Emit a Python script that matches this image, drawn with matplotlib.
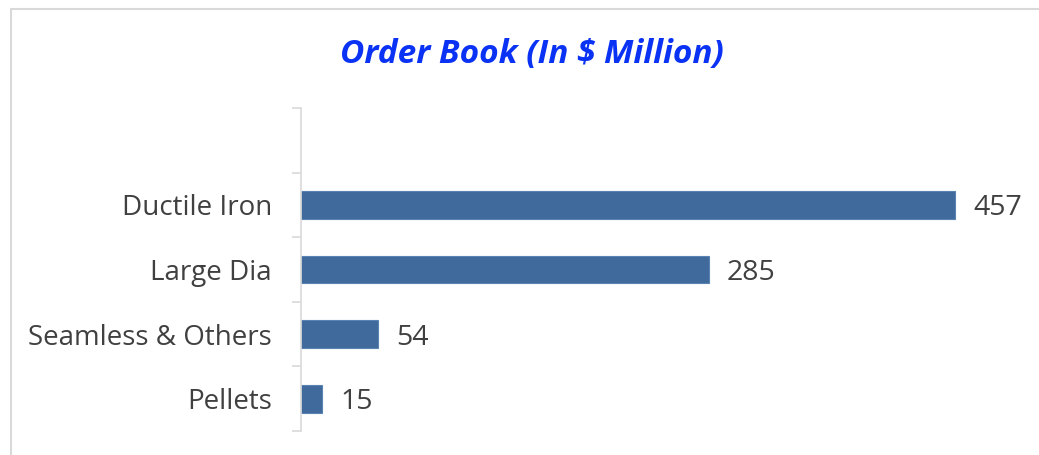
import matplotlib
matplotlib.use("Agg")
import matplotlib.pyplot as plt
from matplotlib.patches import Rectangle

categories = ["Pellets", "Seamless & Others", "Large Dia", "Ductile Iron"]
values = [15, 54, 285, 457]
title = "Order Book (In $ Million)"

W, H = 1039, 455
fig = plt.figure(figsize=(W / 100, H / 100), dpi=100)
plt.rcParams['font.family'] = ['Open Sans', 'DejaVu Sans']

# outer chart frame (only left/top edges visible in the crop)
fig.patches.append(Rectangle((11 / W, -0.5), 1.5, 1.5 - 9 / H,
                             transform=fig.transFigure, fill=False,
                             edgecolor="#d9d9d9", linewidth=1.5))

ax_left, ax_right = 301, 1000
ax_top, ax_bottom = 108, 431
ax = fig.add_axes([ax_left / W, 1 - ax_bottom / H,
                   (ax_right - ax_left) / W, (ax_bottom - ax_top) / H])

pos = list(range(len(categories)))
ax.barh(pos, values, height=0.43, color="#406a9b", edgecolor="#5a82b2", linewidth=0.8)

xmax = (ax_right - ax_left) / (957 - 303) * 457
ax.set_xlim(0, xmax)
ax.set_ylim(-0.5, len(categories) + 0.5)

for p, v in zip(pos, values):
    ax.annotate(str(v), (v, p), xytext=(13, 0), textcoords="offset points",
                va="center_baseline", ha="left", fontsize=20.5, color="#404040")

ax.set_yticks(pos)
ax.set_yticklabels(categories, fontsize=20, color="#404040")
ax.set_yticks([i - 0.5 for i in range(len(categories) + 2)], minor=True)
ax.tick_params(axis="y", which="major", length=0, pad=21)
ax.tick_params(axis="y", which="minor", length=6.5, width=1.2, color="#d9d9d9")
ax.set_xticks([])
for s in ["top", "right", "bottom"]:
    ax.spines[s].set_visible(False)
ax.spines["left"].set_color("#d9d9d9")
ax.spines["left"].set_linewidth(1.2)

fig.text(532 / W, 1 - 55 / H, title, ha="center", va="center",
         fontsize=24, fontweight="bold", fontstyle="italic", color="#0a32f5")

fig.savefig("out.png", dpi=100)
